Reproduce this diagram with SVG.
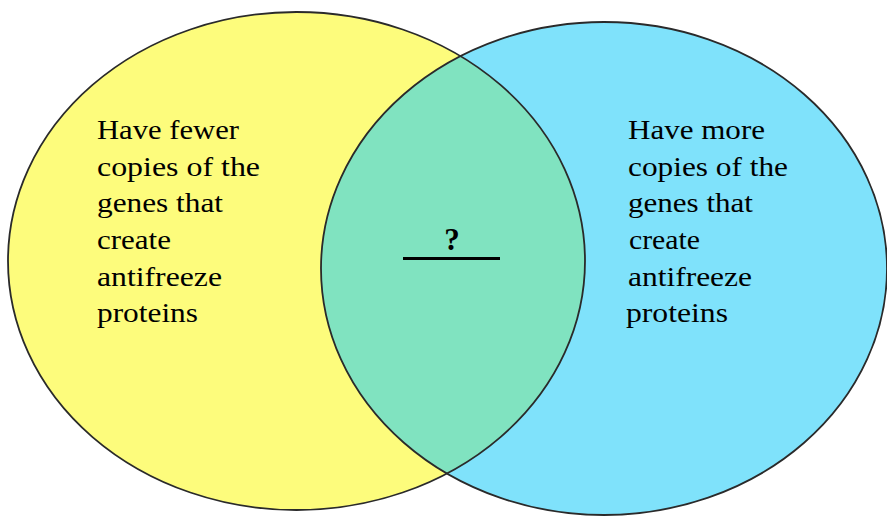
<svg xmlns="http://www.w3.org/2000/svg" width="887" height="519" viewBox="0 0 887 519">
<style>
.lbl{font-family:"Liberation Serif","Times New Roman",serif;font-size:28px;fill:#000}
.q{font-family:"Liberation Serif","Times New Roman",serif;font-size:31px;font-weight:bold;fill:#000}
.ring{fill:none;stroke:#2a2a2a;stroke-width:1.8}
</style>
<defs>
<clipPath id="clipY"><ellipse cx="296.5" cy="261" rx="288.5" ry="249"/></clipPath>
</defs>
<rect width="887" height="519" fill="#ffffff"/>
<g id="set-left">
<ellipse cx="296.5" cy="261" rx="288.5" ry="249" fill="#fdfc7c"/>
</g>
<g id="set-right">
<ellipse cx="604" cy="268.5" rx="283" ry="246.5" fill="#7fe2fb"/>
</g>
<g id="overlap">
<ellipse cx="604" cy="268.5" rx="283" ry="246.5" fill="#80e3c0" clip-path="url(#clipY)"/>
</g>
<g id="outlines">
<ellipse class="ring" cx="296.5" cy="261" rx="288.5" ry="249"/>
<ellipse class="ring" cx="604" cy="268.5" rx="283" ry="246.5"/>
</g>
<g id="left-text">
<text class="lbl" x="97" y="139" textLength="142" lengthAdjust="spacingAndGlyphs">Have fewer</text>
<text class="lbl" x="97" y="175.5" textLength="163" lengthAdjust="spacingAndGlyphs">copies of the</text>
<text class="lbl" x="97" y="212" textLength="126" lengthAdjust="spacingAndGlyphs">genes that</text>
<text class="lbl" x="97" y="249" textLength="74" lengthAdjust="spacingAndGlyphs">create</text>
<text class="lbl" x="97" y="285.5" textLength="125" lengthAdjust="spacingAndGlyphs">antifreeze</text>
<text class="lbl" x="97" y="322" textLength="101" lengthAdjust="spacingAndGlyphs">proteins</text>
</g>
<g id="right-text">
<text class="lbl" x="628" y="139" textLength="137" lengthAdjust="spacingAndGlyphs">Have more</text>
<text class="lbl" x="628" y="175.5" textLength="160" lengthAdjust="spacingAndGlyphs">copies of the</text>
<text class="lbl" x="628" y="212" textLength="125" lengthAdjust="spacingAndGlyphs">genes that</text>
<text class="lbl" x="629" y="249" textLength="71" lengthAdjust="spacingAndGlyphs">create</text>
<text class="lbl" x="628" y="285.5" textLength="124" lengthAdjust="spacingAndGlyphs">antifreeze</text>
<text class="lbl" x="626" y="322" textLength="102" lengthAdjust="spacingAndGlyphs">proteins</text>
</g>
<g id="center-label">
<text class="q" x="452" y="250" text-anchor="middle">?</text>
<line x1="403" y1="258.5" x2="500" y2="258.5" stroke="#000" stroke-width="3"/>
</g>
</svg>
